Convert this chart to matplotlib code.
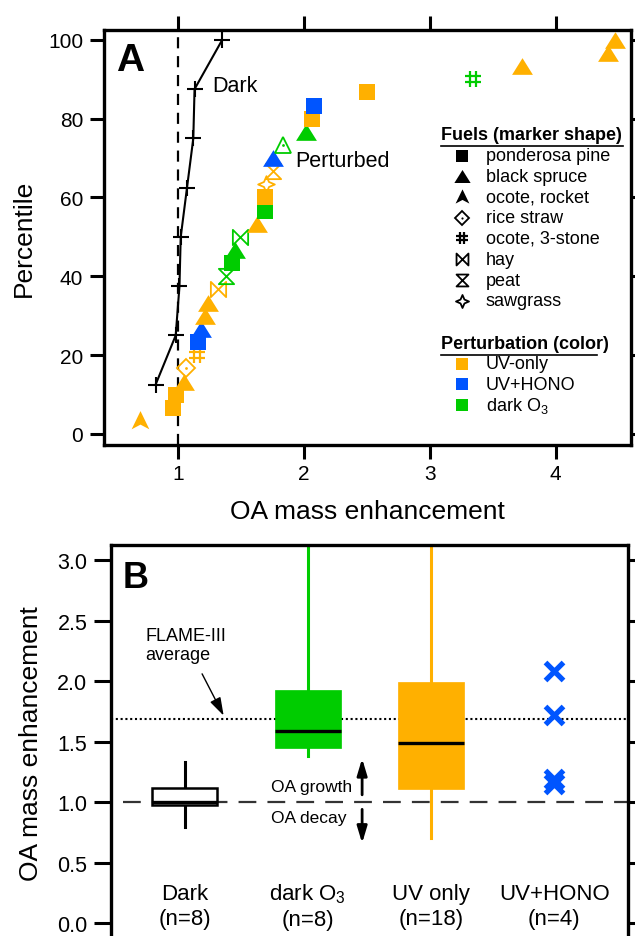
import numpy as np
import matplotlib
matplotlib.use('Agg')
import matplotlib.pyplot as plt
from matplotlib.path import Path
from matplotlib.lines import Line2D

plt.rcParams['font.family'] = ['Liberation Sans', 'DejaVu Sans']
plt.rcParams['mathtext.fontset'] = 'custom'
plt.rcParams['mathtext.rm'] = 'Liberation Sans'
plt.rcParams['mathtext.it'] = 'Liberation Sans:italic'
plt.rcParams['mathtext.bf'] = 'Liberation Sans:bold'

# ---------------- Panel A data ----------------
dark_x = [0.82, 0.98, 1.01, 1.02, 1.07, 1.12, 1.13, 1.35]
dark_pct = [12.5, 25.0, 37.5, 50.0, 62.5, 75.0, 87.5, 100.0]

pert_x = [0.70, 0.96, 0.98, 1.05, 1.06, 1.15, 1.155, 1.18, 1.21, 1.24,
          1.32, 1.38, 1.43, 1.45, 1.49, 1.63, 1.69, 1.69, 1.70, 1.75,
          1.755, 1.83, 2.02, 2.06, 2.08, 2.50, 3.34, 3.73, 4.42, 4.47]
pert_pct = [3.3, 6.7, 10.0, 13.3, 16.7, 20.0, 23.3, 26.7, 30.0, 33.3,
            36.7, 40.0, 43.3, 46.7, 50.0, 53.3, 56.7, 60.0, 63.3, 66.7,
            70.0, 73.3, 76.7, 80.0, 83.3, 86.7, 90.0, 93.3, 96.7, 100.0]
pert_fuel = ['rocket', 'pine', 'pine', 'spruce', 'rice', 'stone', 'pine', 'spruce', 'spruce', 'spruce',
             'hay', 'peat', 'pine', 'spruce', 'hay', 'spruce', 'pine', 'pine', 'sawgrass', 'peat',
             'spruce', 'other', 'spruce', 'pine', 'pine', 'pine', 'stone', 'spruce', 'spruce', 'spruce']
pert_type = ['UV', 'UV', 'UV', 'UV', 'UV', 'UV', 'HONO', 'HONO', 'UV', 'UV',
             'UV', 'O3', 'O3', 'O3', 'O3', 'UV', 'O3', 'UV', 'UV', 'UV',
             'HONO', 'O3', 'O3', 'UV', 'HONO', 'UV', 'O3', 'UV', 'UV', 'UV']

fuel_labels = ['ponderosa pine', 'black spruce', 'ocote, rocket', 'rice straw',
               'ocote, 3-stone', 'hay', 'peat', 'sawgrass']
fuel_keys = ['pine', 'spruce', 'rocket', 'rice', 'stone', 'hay', 'peat', 'sawgrass']
pert_labels = ['UV-only', 'UV+HONO', 'dark O$_3$']
pert_keys = ['UV', 'HONO', 'O3']

# ---------------- Panel B data ----------------
box_labels = ['Dark\n(n=8)', 'dark O$_3$\n(n=8)', 'UV only\n(n=18)', 'UV+HONO\n(n=4)']
box_whislo = [0.79, 1.38, 0.70]
box_q1 = [0.98, 1.45, 1.11]
box_med = [1.00, 1.59, 1.49]
box_q3 = [1.12, 1.93, 1.99]
box_whishi = [1.33, 3.5, 3.5]
hono_vals = [2.08, 1.72, 1.19, 1.15]
flame_avg = 1.69

# ---------------- styles ----------------
C = {'UV': '#FFB000', 'HONO': '#0055FF', 'O3': '#00CC00'}

tri = Path([(0, 0.8), (-1, -0.8), (1, -0.8), (0, 0.8)],
           [Path.MOVETO, Path.LINETO, Path.LINETO, Path.CLOSEPOLY])
rocket = Path([(0, 1), (0.85, -0.75), (0, -0.3), (-0.85, -0.75), (0, 1)],
              [Path.MOVETO, Path.LINETO, Path.LINETO, Path.LINETO, Path.CLOSEPOLY])
hash_p = Path([(-0.35, -1), (-0.35, 1), (0.35, -1), (0.35, 1),
               (-1, -0.35), (1, -0.35), (-1, 0.35), (1, 0.35)],
              [Path.MOVETO, Path.LINETO] * 4)
hay_p = Path([(-1, 1), (1, -1), (1, 1), (-1, -1), (-1, 1)],
             [Path.MOVETO, Path.LINETO, Path.LINETO, Path.LINETO, Path.CLOSEPOLY])
peat_p = Path([(-1, 1), (1, 1), (-1, -1), (1, -1), (-1, 1)],
              [Path.MOVETO, Path.LINETO, Path.LINETO, Path.LINETO, Path.CLOSEPOLY])
saw_p = Path([(0, 1), (0.3, 0.3), (1, 0), (0.3, -0.3), (0, -1), (-0.3, -0.3),
              (-1, 0), (-0.3, 0.3), (0, 1)],
             [Path.MOVETO] + [Path.LINETO] * 7 + [Path.CLOSEPOLY])

# marker spec: (marker, size, filled, edge width, center dot)
MK = {
    'pine': ('s', 11, True, 0, False),
    'spruce': (tri, 15, True, 0, False),
    'rocket': (rocket, 15, True, 0, False),
    'rice': ('D', 9, False, 1.3, True),
    'stone': (hash_p, 11.5, False, 1.6, False),
    'hay': (hay_p, 11, False, 1.3, False),
    'peat': (peat_p, 11, False, 1.3, False),
    'sawgrass': (saw_p, 12, False, 1.3, False),
    'other': ('^', 12, False, 1.3, True),
}


def draw_marker(ax, x, y, key, color, scale=1.0, **kw):
    m, s, filled, mew, dot = MK[key]
    if filled:
        ax.plot(x, y, linestyle='none', marker=m, markersize=s * scale,
                markerfacecolor=color, markeredgecolor=color, markeredgewidth=0, **kw)
    else:
        ax.plot(x, y, linestyle='none', marker=m, markersize=s * scale,
                markerfacecolor='none', markeredgecolor=color, markeredgewidth=mew, **kw)
    if dot:
        ax.plot(x, y, linestyle='none', marker='o', markersize=2 * scale,
                color=color, markeredgewidth=0, **kw)


fig = plt.figure(figsize=(6.35, 9.37), dpi=100)

# ================= Panel A =================
axA = fig.add_axes([104 / 635, 1 - 446 / 937, 527 / 635, 415 / 937])
axA.set_xlim(0.41, 4.60)
axA.set_ylim(-2.8, 102.5)
axA.axvline(1.0, color='black', lw=1.6, dashes=(5, 3.5), zorder=1)
axA.plot(dark_x, dark_pct, color='black', lw=1.5, marker='+', markersize=12,
         markeredgewidth=1.5, zorder=3)
for x, y, f, t in zip(pert_x, pert_pct, pert_fuel, pert_type):
    draw_marker(axA, x, y, f, C[t], zorder=4)

axA.text(1.27, 88.5, 'Dark', fontsize=15.5, ha='left', va='center')
axA.text(1.93, 69.5, 'Perturbed', fontsize=15.5, ha='left', va='center')
axA.text(0.022, 0.972, 'A', transform=axA.transAxes, fontsize=28, fontweight='bold',
         ha='left', va='top')

# legend (manual)
tx0, mx, lx = 0.639, 0.680, 0.724
yt = 0.748
axA.text(tx0, yt, 'Fuels (marker shape)', transform=axA.transAxes, fontsize=13,
         fontweight='bold', ha='left', va='center')
axA.plot([tx0, 0.985], [yt - 0.027, yt - 0.027], transform=axA.transAxes, color='black', lw=1.2)
fy = [0.697, 0.647, 0.597, 0.547, 0.498, 0.447, 0.397, 0.347]
for yy, k, lab in zip(fy, fuel_keys, fuel_labels):
    draw_marker(axA, [mx], [yy], k, 'black', scale=0.78, transform=axA.transAxes, clip_on=False)
    axA.text(lx, yy, lab, transform=axA.transAxes, fontsize=13, ha='left', va='center')
yt2 = 0.245
axA.text(tx0, yt2, 'Perturbation (color)', transform=axA.transAxes, fontsize=13,
         fontweight='bold', ha='left', va='center')
axA.plot([tx0, 0.935], [yt2 - 0.027, yt2 - 0.027], transform=axA.transAxes, color='black', lw=1.2)
py = [0.196, 0.146, 0.097]
for yy, k, lab in zip(py, pert_keys, pert_labels):
    axA.plot([mx], [yy], transform=axA.transAxes, linestyle='none', marker='s',
             markersize=8.5, color=C[k], markeredgewidth=0)
    axA.text(lx, yy, lab, transform=axA.transAxes, fontsize=13, ha='left', va='center')

axA.set_xticks([1, 2, 3, 4])
axA.set_yticks([0, 20, 40, 60, 80, 100])
axA.tick_params(axis='both', direction='out', length=10, width=2.2, labelsize=15,
                top=True, right=True, labeltop=False, labelright=False, pad=5)
axA.tick_params(axis='x', pad=4)
axA.set_xlabel('OA mass enhancement', fontsize=19, labelpad=11)
axA.set_ylabel('Percentile', fontsize=19, labelpad=9)
for sp in axA.spines.values():
    sp.set_linewidth(2.4)

# ================= Panel B =================
axB = fig.add_axes([111 / 635, -4 / 937, 517 / 635, 395 / 937])
axB.set_xlim(0.40, 4.60)
axB.set_ylim(-0.14, 3.125)

axB.hlines(1.0, 0.5, 4.7, color='#333333', lw=1.6, linestyles=(0, (8, 5)), zorder=1)
axB.axhline(flame_avg, color='black', lw=1.5, linestyle=(0, (1, 1.3)), zorder=1)

box_colors = ['white', C['O3'], C['UV']]
whisk_colors = ['black', C['O3'], C['UV']]
stats = []
for i in range(3):
    stats.append(dict(whislo=box_whislo[i], q1=box_q1[i], med=box_med[i],
                      q3=box_q3[i], whishi=box_whishi[i], fliers=[]))
arts = axB.bxp(stats, positions=[1, 2, 3], widths=0.53, patch_artist=True,
               showcaps=False, showfliers=False, manage_ticks=False)
for i in range(3):
    box = arts['boxes'][i]
    box.set_facecolor(box_colors[i])
    if i == 0:
        box.set_edgecolor('black')
        box.set_linewidth(1.8)
    else:
        box.set_edgecolor(box_colors[i])
        box.set_linewidth(0.5)
    box.set_zorder(3)
    arts['medians'][i].set_color('black')
    arts['medians'][i].set_linewidth(2.4)
    arts['medians'][i].set_zorder(4)
    for w in arts['whiskers'][2 * i:2 * i + 2]:
        w.set_color(whisk_colors[i])
        w.set_linewidth(2.2)
        w.set_zorder(2)

axB.plot([4] * len(hono_vals), hono_vals, linestyle='none', marker='x', markersize=13,
         markeredgewidth=3.8, color=C['HONO'], zorder=5)

for i, lab in enumerate(box_labels):
    axB.text(i + 1, 0.14, lab, fontsize=16, ha='center', va='center', linespacing=1.25)

axB.annotate('', xy=(1.315, 1.715), xytext=(1.14, 2.06),
             arrowprops=dict(arrowstyle='-|>,head_length=1.1,head_width=0.35',
                             color='black', lw=1.0, shrinkA=0, shrinkB=0))
axB.text(0.68, 2.30, 'FLAME-III\naverage', fontsize=13, ha='left', va='center', linespacing=1.15)

axB.annotate('', xy=(2.44, 1.36), xytext=(2.44, 1.06),
             arrowprops=dict(arrowstyle='-|>,head_length=1.0,head_width=0.3',
                             color='black', lw=2.0, shrinkA=0, shrinkB=0))
axB.annotate('', xy=(2.44, 0.66), xytext=(2.44, 0.94),
             arrowprops=dict(arrowstyle='-|>,head_length=1.0,head_width=0.3',
                             color='black', lw=2.0, shrinkA=0, shrinkB=0))
axB.text(1.70, 1.13, 'OA growth', fontsize=12.5, ha='left', va='center')
axB.text(1.70, 0.87, 'OA decay', fontsize=12.5, ha='left', va='center')

axB.text(0.022, 0.962, 'B', transform=axB.transAxes, fontsize=26, fontweight='bold',
         ha='left', va='top')

axB.set_xticks([])
axB.set_yticks([0.0, 0.5, 1.0, 1.5, 2.0, 2.5, 3.0])
axB.set_yticklabels(['0.0', '0.5', '1.0', '1.5', '2.0', '2.5', '3.0'])
axB.tick_params(axis='y', direction='out', length=12, width=2.2, labelsize=15.5,
                right=True, labelright=False, pad=5)
axB.set_ylabel('OA mass enhancement', fontsize=19, labelpad=10)
for sp in axB.spines.values():
    sp.set_linewidth(2.4)

fig.savefig('out.png', dpi=100)
